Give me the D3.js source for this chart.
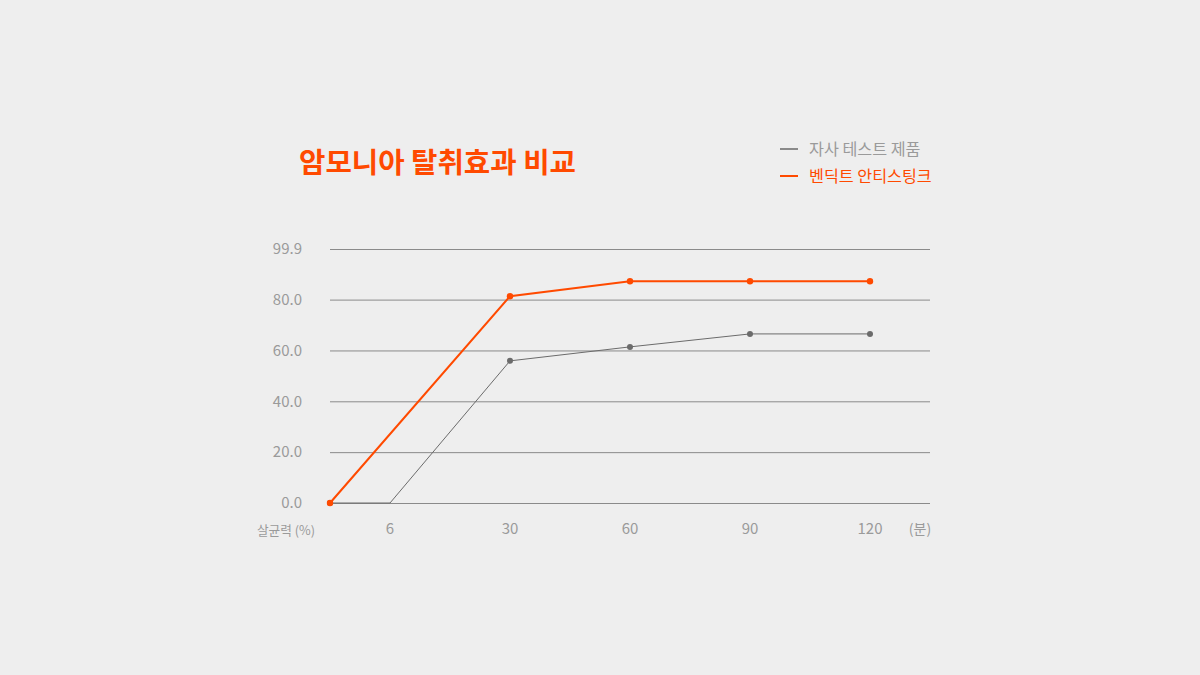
<!DOCTYPE html>
<html>
<head>
<meta charset="utf-8">
<script src="https://cdn.jsdelivr.net/npm/d3@7"></script>
<style>
  html, body { margin: 0; padding: 0; background: #eeeeee; }
  svg text { font-family: "Noto Sans CJK KR", "Noto Sans", sans-serif; }
</style>
</head>
<body>
<div id="container"></div>
<script>
// 데이터
const timeLabels = ['6', '30', '60', '90', '120'];
const yTicks = [0, 20, 40, 60, 80, 99.9];
const seriesNames = ['자사 테스트 제품', '벤딕트 안티스팅크'];
const seriesColors = ['#6b6b6b', '#ff4a00'];
// null = 원점 (0분)
const ownValues = [[null, 0], ['6', 0], ['30', 55.9], ['60', 61.4], ['90', 66.5], ['120', 66.5]];
const benedictValues = [[null, 0], ['30', 81.3], ['60', 87.2], ['90', 87.2], ['120', 87.2]];
const ownDots = [null, '30', '60', '90', '120'];

const width = 1200, height = 675;
const margin = {left: 330, right: 270, top: 249, bottom: 172};
const innerW = width - margin.left - margin.right;
const innerH = height - margin.top - margin.bottom;

const svg = d3.select('#container').append('svg')
    .attr('width', width)
    .attr('height', height);
svg.append('rect').attr('width', width).attr('height', height).attr('fill', '#eeeeee');

const g = svg.append('g').attr('transform', `translate(${margin.left},${margin.top})`);

// 스케일
const xBand = d3.scaleBand().domain(timeLabels).range([0, innerW]).padding(0);
const xPos = k => k === null ? 0 : xBand(k) + xBand.bandwidth() / 2;
const yScale = d3.scaleLinear().domain([0, 99.9]).range([innerH, 0]);

// 그리드 + y축 라벨
const yAxis = d3.axisLeft(yScale)
    .tickValues(yTicks)
    .tickFormat(d3.format('.1f'))
    .tickSize(-innerW)
    .tickPadding(28);
const yAxisG = g.append('g').call(yAxis);
yAxisG.select('.domain').remove();
yAxisG.selectAll('.tick line').attr('stroke', '#8a8a8a').attr('stroke-width', 1);
yAxisG.selectAll('.tick text')
    .attr('fill', '#9a9a9a')
    .attr('font-size', 15);

// x축 라벨
const xAxis = d3.axisBottom(xBand).tickSize(0).tickPadding(20);
const xAxisG = g.append('g').attr('transform', `translate(0,${innerH})`).call(xAxis);
xAxisG.select('.domain').remove();
xAxisG.selectAll('.tick text').attr('fill', '#9a9a9a').attr('font-size', 15);

g.append('text')
    .attr('x', -44).attr('y', innerH + 32)
    .attr('text-anchor', 'middle')
    .attr('fill', '#9a9a9a')
    .attr('font-size', 12.7)
    .text('살균력 (%)');
g.append('text')
    .attr('x', innerW - 10).attr('y', innerH + 31)
    .attr('text-anchor', 'middle')
    .attr('fill', '#9a9a9a')
    .attr('font-size', 14)
    .text('(분)');

// 선
const line = d3.line().x(d => xPos(d[0])).y(d => yScale(d[1]));

g.append('path').datum(ownValues)
    .attr('fill', 'none')
    .attr('stroke', seriesColors[0])
    .attr('stroke-width', 1)
    .attr('d', line);
g.selectAll('.dotOwn').data(ownValues.filter(d => ownDots.includes(d[0])))
    .enter().append('circle')
    .attr('class', 'dotOwn')
    .attr('cx', d => xPos(d[0]))
    .attr('cy', d => yScale(d[1]))
    .attr('r', 3)
    .attr('fill', seriesColors[0]);

g.append('path').datum(benedictValues)
    .attr('fill', 'none')
    .attr('stroke', seriesColors[1])
    .attr('stroke-width', 2)
    .attr('d', line);
g.selectAll('.dotBen').data(benedictValues)
    .enter().append('circle')
    .attr('class', 'dotBen')
    .attr('cx', d => xPos(d[0]))
    .attr('cy', d => yScale(d[1]))
    .attr('r', 3.2)
    .attr('fill', seriesColors[1]);

// 제목
svg.append('text')
    .attr('x', 299).attr('y', 173)
    .attr('fill', '#ff4a00')
    .attr('font-size', 28.7)
    .attr('font-weight', 700)
    .text('암모니아 탈취효과 비교');

// 범례
const legend = svg.append('g').attr('transform', 'translate(780,149)');
seriesNames.forEach((name, i) => {
    const row = legend.append('g').attr('transform', `translate(0,${i * 27})`);
    row.append('line')
        .attr('x1', 0).attr('x2', 18)
        .attr('stroke', i === 0 ? '#8a8a8a' : seriesColors[1])
        .attr('stroke-width', 2);
    row.append('text')
        .attr('x', 29).attr('y', 5.5)
        .attr('fill', i === 0 ? '#9a9a9a' : seriesColors[1])
        .attr('font-size', 16.2)
        .text(name);
});
</script>
</body>
</html>
